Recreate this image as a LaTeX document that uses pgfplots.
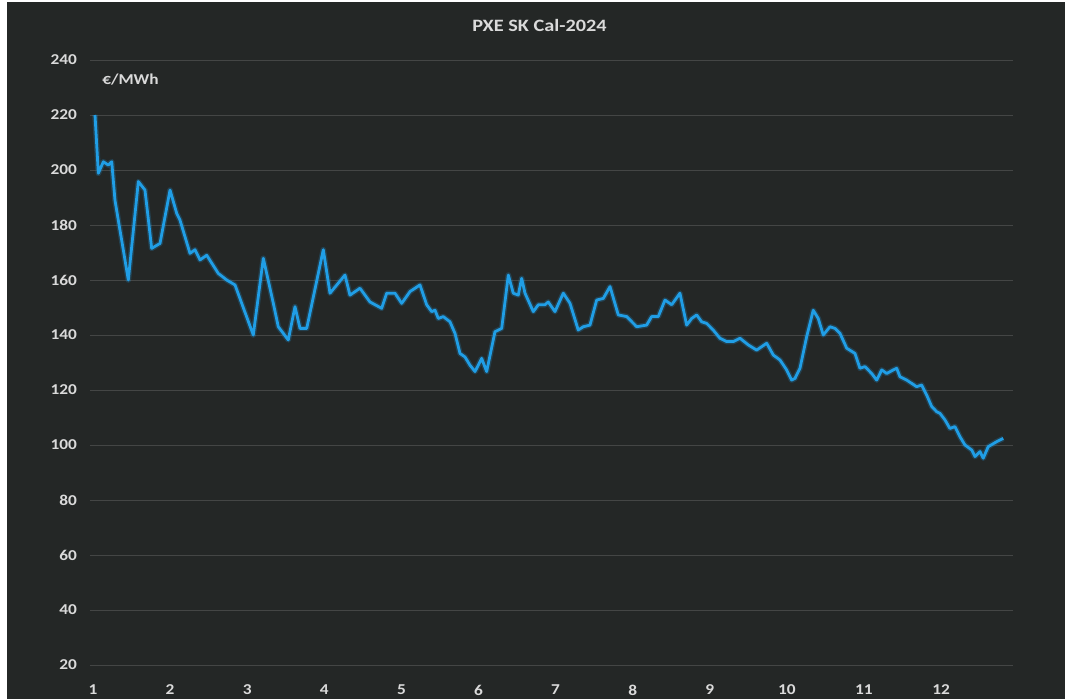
\documentclass[border=0pt]{standalone}
\usepackage{fontspec}
\setmainfont{Carlito}
\usepackage{pgfplots}
\pgfplotsset{compat=1.18}
\usepackage{pgfplotstable}
\definecolor{bg}{RGB}{36,39,38}
\definecolor{gridc}{RGB}{68,70,69}
\definecolor{txt}{RGB}{218,218,218}
\definecolor{line}{RGB}{32,158,230}
\pgfplotstableread{
x y
1.026 220
1.069 198.8
1.134 203
1.198 201.8
1.243 203
1.285 189
1.458 160
1.588 195.8
1.674 192.7
1.761 171.5
1.869 173.3
1.999 192.7
2.086 184.2
2.128 181.8
2.258 169.7
2.323 171
2.388 167.3
2.475 169
2.625 162.4
2.734 160
2.842 158.2
3.079 140
3.209 167.9
3.339 151.5
3.403 143
3.533 138.2
3.620 150.3
3.685 142.4
3.772 142.4
3.987 171
4.074 155.2
4.268 161.8
4.333 154.5
4.463 157
4.593 152
4.744 149.7
4.809 155.2
4.917 155.2
5.004 151.5
5.112 155.8
5.241 158.2
5.328 151
5.393 148.5
5.436 149
5.479 146
5.543 146.7
5.630 144.8
5.695 140.6
5.760 133.3
5.825 132
5.890 129
5.955 126.7
6.041 131.5
6.106 126.7
6.214 141.2
6.301 142.4
6.387 161.8
6.451 155.2
6.516 154.5
6.560 160.6
6.603 155.2
6.711 148.5
6.776 151
6.862 151
6.905 152
6.992 148.5
7.100 155.2
7.187 151.5
7.294 141.8
7.359 143
7.446 143.6
7.533 152.7
7.619 153.3
7.706 157.6
7.813 147.3
7.922 146.7
8.052 143
8.181 143.6
8.246 146.7
8.332 146.7
8.419 152.7
8.506 151
8.613 155.2
8.700 143.6
8.765 146
8.830 147.3
8.895 144.8
8.960 144.2
9.045 141.8
9.132 138.8
9.219 137.6
9.305 137.6
9.392 138.8
9.499 136.4
9.608 134.5
9.738 137
9.824 132.7
9.911 130.9
9.997 127.3
10.062 123.6
10.105 124.2
10.170 127.9
10.257 139.4
10.342 149
10.407 146
10.472 140
10.559 143
10.624 142.4
10.689 140.6
10.776 135.2
10.883 133.3
10.948 127.9
11.013 128.5
11.100 126
11.165 123.6
11.230 127.3
11.295 126
11.380 127.3
11.424 127.9
11.467 124.8
11.554 123.6
11.619 122.4
11.683 121.2
11.748 121.8
11.813 118.2
11.878 114
11.943 112.1
11.986 111.5
12.051 109.1
12.115 106
12.180 106.7
12.245 103
12.310 100
12.397 98.2
12.440 95.8
12.505 97.6
12.547 95.2
12.612 99.4
12.721 101.2
12.807 102.4
}\pricedata
\begin{document}
\begin{tikzpicture}
\fill[white] (0,0) rectangle (798.75pt,524.25pt);
\fill[bg] (5.25pt,0) rectangle (798.75pt,522.4pt);
\begin{axis}[
  at={(67.5pt,15.19pt)}, anchor=south west,
  width=692.25pt, height=464.06pt, scale only axis,
  xmin=0.961, xmax=12.933, ymin=15, ymax=240,
  xtick={1,2,...,12}, ytick={20,40,...,240},
  ymajorgrids, grid style={gridc, line width=0.6pt},
  axis line style={draw=none}, major tick style={draw=none},
  /pgf/number format/assume math mode=true,
  ticklabel style={font=\fontsize{11.3}{13}\selectfont\bfseries, text=txt, xscale=1.15},
  yticklabel style={xshift=-5pt},
  xticklabel style={yshift=-1pt},
  clip=false,
]
\addplot[line, line width=4.2pt, opacity=0.22, line join=round] table[x=x,y=y] {\pricedata};
\addplot[line, line width=2.1pt, line join=round] table[x=x,y=y] {\pricedata};
\end{axis}
\node[text=txt, font=\fontsize{13}{15}\selectfont\bfseries, xscale=1.17] at (404.6pt,505.5pt) {PXE SK Cal-2024};
\node[text=txt, font=\fontsize{11.3}{13}\selectfont\bfseries, xscale=1.15, anchor=west, inner sep=0pt] at (76.5pt,464.25pt) {€/MWh};
\end{tikzpicture}
\end{document}
